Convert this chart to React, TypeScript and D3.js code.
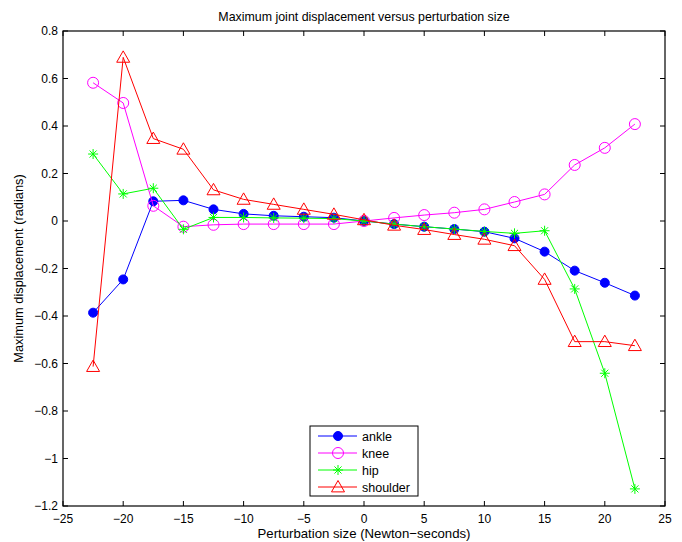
import React from "react";
import * as d3 from "d3";

// perturbation sizes (Newton-seconds)
const sizes = [-22.5, -20, -17.5, -15, -12.5, -10, -7.5, -5, -2.5, 0, 2.5, 5, 7.5, 10, 12.5, 15, 17.5, 20, 22.5];

const ankle = [-0.386, -0.246, 0.083, 0.087, 0.049, 0.03, 0.022, 0.018, 0.014, 0, -0.013, -0.024, -0.034, -0.045, -0.073, -0.129, -0.209, -0.26, -0.314];
const knee = [0.582, 0.497, 0.064, -0.024, -0.016, -0.013, -0.013, -0.013, -0.013, 0, 0.013, 0.025, 0.035, 0.049, 0.08, 0.112, 0.236, 0.308, 0.408];
const hip = [0.282, 0.114, 0.138, -0.035, 0.015, 0.015, 0.013, 0.012, 0.01, 0, -0.013, -0.024, -0.034, -0.044, -0.052, -0.041, -0.286, -0.641, -1.128];
const shoulder = [-0.613, 0.689, 0.347, 0.302, 0.131, 0.091, 0.07, 0.049, 0.028, 0.005, -0.018, -0.036, -0.057, -0.077, -0.104, -0.246, -0.508, -0.508, -0.525];

const xTicks = [-25, -20, -15, -10, -5, 0, 5, 10, 15, 20, 25];
const yTicks = [0.8, 0.6, 0.4, 0.2, 0, -0.2, -0.4, -0.6, -0.8, -1, -1.2];

const series = [
  { name: "ankle", values: ankle, color: "#0000ff", marker: "dot" },
  { name: "knee", values: knee, color: "#ff00ff", marker: "circle" },
  { name: "hip", values: hip, color: "#00ff00", marker: "star" },
  { name: "shoulder", values: shoulder, color: "#ff0000", marker: "triangle" },
];

const W = 682, H = 542;
const margin = { left: 63, right: 17, top: 31, bottom: 36 };
const font = "'Liberation Sans', Arial, Helvetica, sans-serif";

const fmt = (v: number) => String(v).replace("-", "\u2212");

function Marker({ type, x, y, color }: { type: string; x: number; y: number; color: string }) {
  if (type === "dot") return <circle cx={x} cy={y} r={4.5} fill={color} stroke={color} />;
  if (type === "circle") return <circle cx={x} cy={y} r={5.5} fill="none" stroke={color} strokeWidth={1} />;
  if (type === "triangle") {
    const s = 6.5;
    return <path d={`M${x},${y - s}L${x + s},${y + s * 0.75}L${x - s},${y + s * 0.75}Z`} fill="none" stroke={color} strokeWidth={1} />;
  }
  // asterisk
  const r = 5;
  const d = r * 0.707;
  return (
    <path
      d={`M${x - r},${y}H${x + r}M${x},${y - r}V${y + r}M${x - d},${y - d}L${x + d},${y + d}M${x - d},${y + d}L${x + d},${y - d}`}
      stroke={color}
      strokeWidth={1}
    />
  );
}

export default function App() {
  const x = d3.scaleLinear().domain([-25, 25]).range([margin.left, W - margin.right]);
  const y = d3.scaleLinear().domain([-1.2, 0.8]).range([H - margin.bottom, margin.top]);
  const x0 = x.range()[0], x1 = x.range()[1];
  const yTop = y.range()[1], yBot = y.range()[0];

  const line = d3.line<number>()
    .x((_, i) => x(sizes[i]))
    .y((d) => y(d));

  const legX = 310, legY = 426, legW = 108, legH = 70, rowH = 17;

  return (
    <svg width={W} height={H} style={{ position: "absolute", left: 0, top: 0, background: "#fff" }} fontFamily={font}>
      <rect width={W} height={H} fill="#fff" />
      {/* ticks */}
      {xTicks.map((t) => (
        <g key={"x" + t}>
          <line x1={x(t)} x2={x(t)} y1={yBot} y2={yBot - 5} stroke="#000" />
          <line x1={x(t)} x2={x(t)} y1={yTop} y2={yTop + 5} stroke="#000" />
          <text x={x(t)} y={yBot + 17} textAnchor="middle" fontSize={12}>{fmt(t)}</text>
        </g>
      ))}
      {yTicks.map((t) => (
        <g key={"y" + t}>
          <line x1={x0} x2={x0 + 5} y1={y(t)} y2={y(t)} stroke="#000" />
          <line x1={x1} x2={x1 - 5} y1={y(t)} y2={y(t)} stroke="#000" />
          <text x={x0 - 5} y={y(t) + 4} textAnchor="end" fontSize={12}>{fmt(t)}</text>
        </g>
      ))}
      {/* series */}
      {series.map((s) => (
        <g key={s.name}>
          <path d={line(s.values) || ""} fill="none" stroke={s.color} strokeWidth={1} />
          {s.values.map((v, i) => (
            <Marker key={i} type={s.marker} x={x(sizes[i])} y={y(v)} color={s.color} />
          ))}
        </g>
      ))}
      <rect x={x0} y={yTop} width={x1 - x0} height={yBot - yTop} fill="none" stroke="#000" strokeWidth={1.2} />
      {/* legend */}
      <rect x={legX} y={legY} width={legW} height={legH} fill="#fff" stroke="#000" strokeWidth={1} />
      {series.map((s, i) => {
        const cy = legY + 10 + i * rowH;
        return (
          <g key={"leg" + s.name}>
            <line x1={legX + 8} x2={legX + 47} y1={cy} y2={cy} stroke={s.color} />
            <Marker type={s.marker} x={legX + 28} y={cy} color={s.color} />
            <text x={legX + 52} y={cy + 4.5} fontSize={12.5}>{s.name}</text>
          </g>
        );
      })}
      {/* titles */}
      <text x={(x0 + x1) / 2} y={21} textAnchor="middle" fontSize={12.4}>Maximum joint displacement versus perturbation size</text>
      <text x={(x0 + x1) / 2} y={538} textAnchor="middle" fontSize={13.2}>Perturbation size (Newton{"\u2212"}seconds)</text>
      <text transform={`translate(23,${(yTop + yBot) / 2}) rotate(-90)`} textAnchor="middle" fontSize={12.8}>Maximum displacement (radians)</text>
    </svg>
  );
}
